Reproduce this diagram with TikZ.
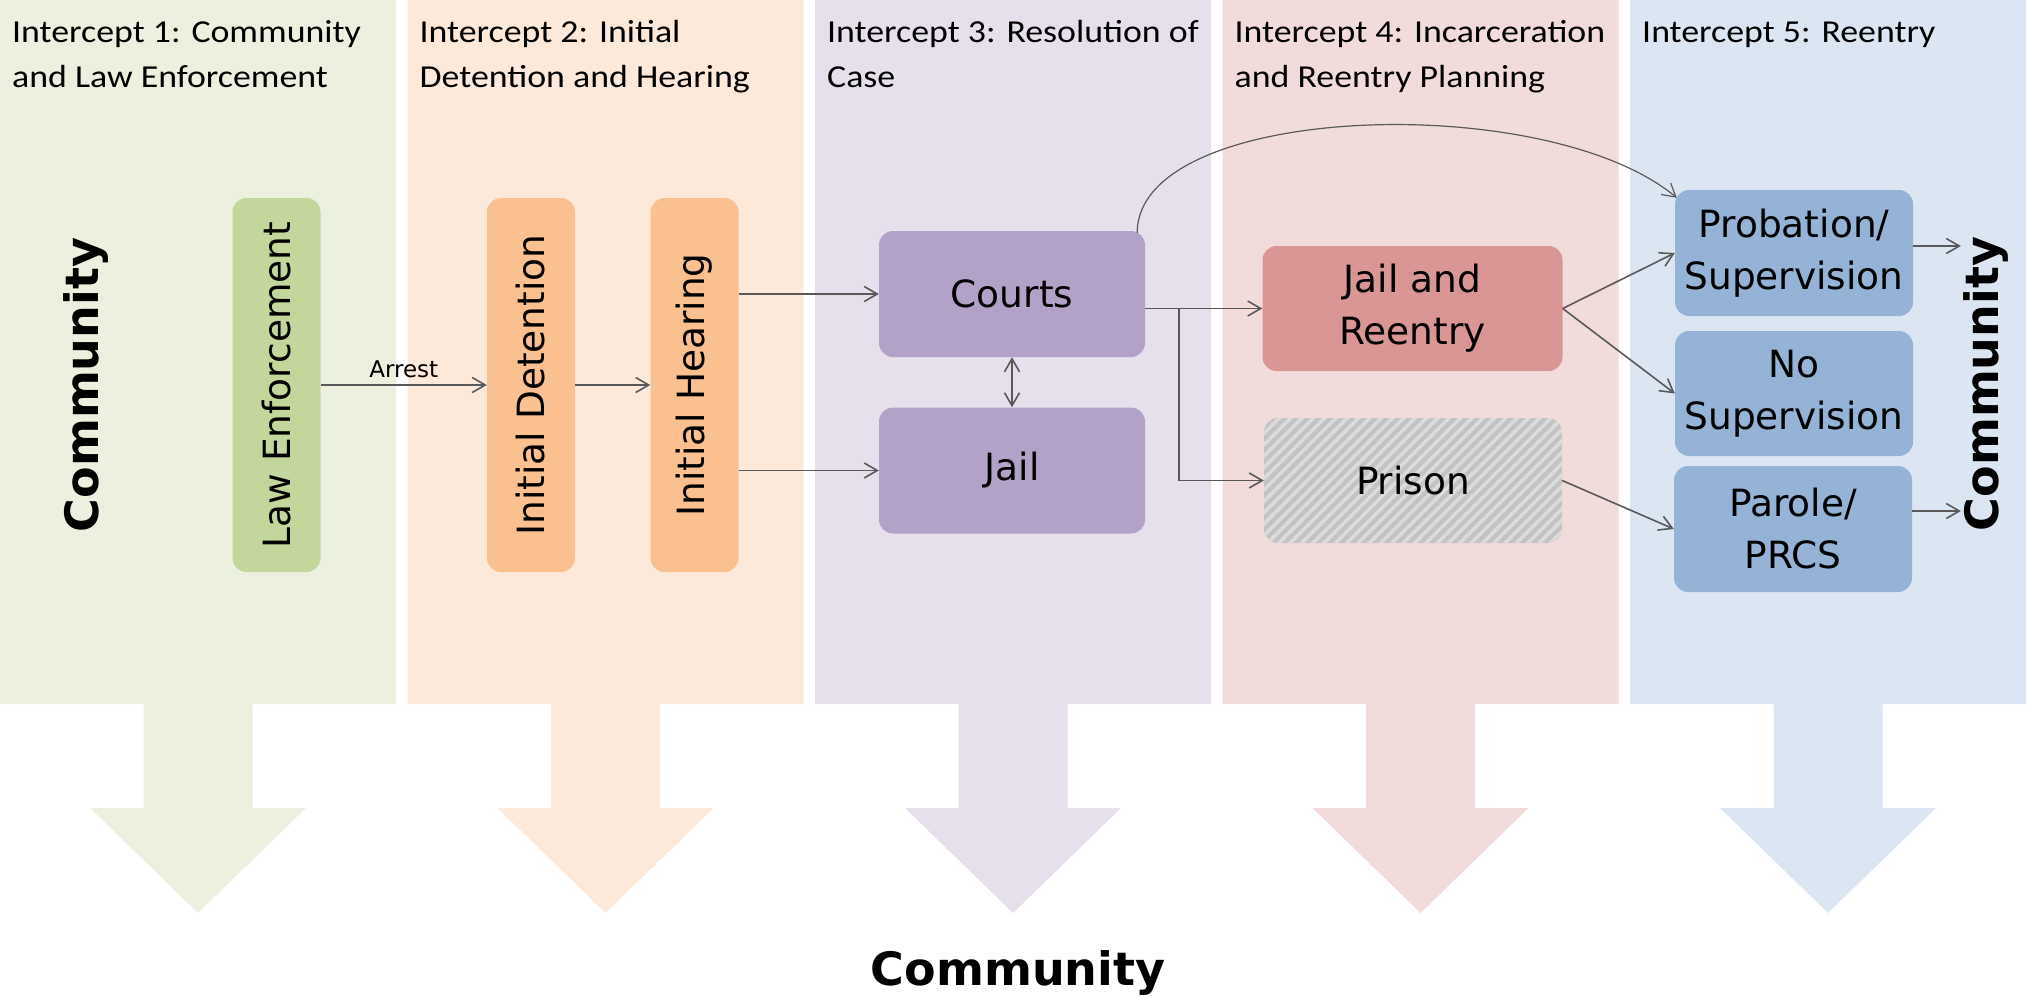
\documentclass[tikz,border=0pt]{standalone}
\usepackage{fontspec}
\setmainfont{DejaVu Sans}
\newfontfamily\encab[FakeStretch=1.12]{Carlito}
\usetikzlibrary{arrows.meta,patterns.meta,calc}

\begin{document}
\begin{tikzpicture}[x=1pt,y=-1pt,
        caja/.style={rounded corners=14pt,inner sep=0pt,align=center,font=\fontsize{37.5}{52}\selectfont},
        vert/.style={caja,rotate=90,minimum width=374pt,minimum height=88pt},
        flecha/.style={draw=linea,line width=1.6pt,-{Straight Barb[length=13pt,width=15pt]}},
        doble/.style={flecha,{Straight Barb[length=13pt,width=15pt]}-{Straight Barb[length=13pt,width=15pt]}},
        enc/.style={anchor=base west,inner sep=0pt,align=left,font=\encab\fontsize{32}{44.5}\selectfont},
        comu/.style={inner sep=0pt,anchor=base,font=\bfseries\fontsize{46}{50}\selectfont}]
        %colores
        \definecolor{banda1}{HTML}{EBF1DE}
        \definecolor{banda2}{HTML}{FDE9D9}
        \definecolor{banda3}{HTML}{E5E0EC}
        \definecolor{banda4}{HTML}{F2DCDB}
        \definecolor{banda5}{HTML}{DCE6F2}
        \definecolor{verdeC}{HTML}{C3D69B}
        \definecolor{naranjaC}{HTML}{FAC090}
        \definecolor{moradoC}{HTML}{B3A2C7}
        \definecolor{rojoC}{HTML}{D99694}
        \definecolor{azulC}{HTML}{95B3D7}
        \definecolor{gris}{HTML}{C3C3C3}
        \definecolor{rayas}{HTML}{DCDCDC}
        \definecolor{linea}{HTML}{595959}

        \useasboundingbox (0,0) rectangle (2028,996);

        % bandas, flechas grandes y titulos (\yb = ultima linea base)
        \foreach \i/\c/\yb/\t in {0/banda1/87/{Intercept 1: Community\\and Law Enforcement},
                                  1/banda2/87/{Intercept 2: Initial\\Detention and Hearing},
                                  2/banda3/87/{Intercept 3: Resolution of\\Case},
                                  3/banda4/87/{Intercept 4: Incarceration\\and Reentry Planning},
                                  4/banda5/42.5/{Intercept 5: Reentry}}
        {
            \pgfmathsetmacro\xa{\i*407.5}
            \pgfmathsetmacro\cx{\xa+198}
            \fill[\c] (\xa,0) rectangle ++(396,704)
                (\cx-54.5,703) -- (\cx-54.5,808) -- (\cx-108,808) -- (\cx,913)
                -- (\cx+108,808) -- (\cx+54.5,808) -- (\cx+54.5,703) -- cycle;
            \node[enc] (enc\i) at (\xa+12,\yb) {\t};
        }

        % Community
        \node[comu,rotate=90] (comI) at (98,385) {Community};
        \node[comu,rotate=90] (comD) at (1998,384) {Community};
        \node[comu] (comB) at (1018,985) {Community};

        % cajas
        \node[vert,fill=verdeC] (ley) at (276.5,385) {Law Enforcement};
        \node[vert,fill=naranjaC] (det) at (531,385) {Initial Detention};
        \node[vert,fill=naranjaC] (aud) at (694.5,385) {Initial Hearing};
        \node[caja,fill=moradoC,minimum width=266pt,minimum height=126pt] (cortes) at (1012,294) {Courts};
        \node[caja,fill=moradoC,minimum width=266pt,minimum height=126pt] (carcel) at (1012,470.5) {Jail};
        \node[caja,fill=rojoC,minimum width=300pt,minimum height=125pt] (reent) at (1412.5,308.5) {Jail and\\Reentry};
        \node[caja,fill=gris,minimum width=298pt,minimum height=125pt,
            postaction={pattern={Lines[angle=45,distance=8pt,line width=3.5pt]},pattern color=rayas}] (prision) at (1413,480.5) {Prison};
        \node[caja,fill=azulC,minimum width=238pt,minimum height=126pt] (prob) at (1794,253) {Probation/\\Supervision};
        \node[caja,fill=azulC,minimum width=238pt,minimum height=125pt] (nosup) at (1794,393.5) {No\\Supervision};
        \node[caja,fill=azulC,minimum width=238pt,minimum height=126pt] (parole) at (1793,529) {Parole/\\PRCS};

        % flechas
        \draw[flecha] (ley) -- node[above,inner sep=6pt,font=\fontsize{23}{26}\selectfont] (arresto) {Arrest} (det);
        \draw[flecha] (det) -- (aud);
        \draw[flecha] (aud.south |- cortes) -- (cortes);
        \draw[flecha] (aud.south |- carcel) -- (carcel);
        \draw[doble] (cortes) -- (carcel);
        \draw[flecha] (cortes.east |- reent) -- (reent);
        \coordinate (rama) at ($(cortes.east |- reent)+(34,0)$);
        \draw[flecha] (rama) |- (prision.west);
        \draw[flecha] (reent.east) -- (prob.west);
        \draw[flecha] (reent.east) -- (nosup.west);
        \draw[flecha] (prision.east) -- (parole.west);
        \draw[flecha] ($(prob.east)+(0,-7)$) -- ($(prob.east -| comD.north)+(-2,-7)$);
        \draw[flecha] ($(parole.east)+(0,-18)$) -- ($(parole.east -| comD.north)+(-2,-18)$);
        \draw[flecha,line width=1.2pt] ($(cortes.north east)+(-8,2)$) .. controls +(0,-130) and +(-131,-109) .. ($(prob.north west)+(2,8)$);
    \end{tikzpicture}
\end{document}
